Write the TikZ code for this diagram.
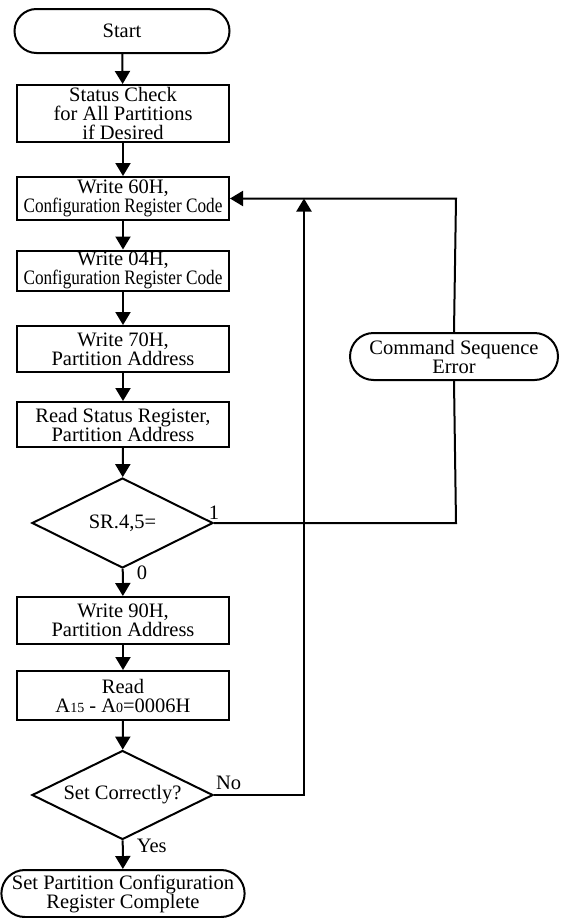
\documentclass[tikz,border=0pt]{standalone}
\usepackage{fontspec}
\setmainfont{Liberation Serif}
\newfontfamily\narrowserif[FakeStretch=0.84]{Liberation Serif}
\usetikzlibrary{shapes.geometric,shapes.misc,arrows.meta}

\begin{document}
\begin{tikzpicture}[x=1pt,y=-1pt,
    every node/.style={font=\fontsize{20.5}{19}\selectfont,align=center,inner sep=1pt},
    terminal/.style={draw,rounded rectangle,line width=2pt},
    stepbox/.style={draw,rectangle,line width=2pt,minimum width=212pt},
    decision/.style={draw,diamond,shape aspect=2,line width=2pt,inner sep=0pt},
    line/.style={line width=2pt},
    flow/.style={line width=2pt,-{Triangle[length=13pt,width=15pt]}}]

    \useasboundingbox (0,0) rectangle (560,918);

    \node [terminal,minimum width=217pt,minimum height=44pt] (start) at (122,31) {Start};
    \node [stepbox,minimum height=57pt] (check) at (123,113.5) {Status Check\\for All Partitions\\if Desired};
    \node [stepbox,minimum height=43pt] (w60) at (123,198.5) {Write 60H,\\{\narrowserif Configuration Register Code}};
    \node [stepbox,minimum height=40pt] (w04) at (123,270.5) {Write 04H,\\{\narrowserif Configuration Register Code}};
    \node [stepbox,minimum height=46pt] (w70) at (123,349) {Write 70H,\\Partition Address};
    \node [stepbox,minimum height=45pt] (rsr) at (123,424.5) {Read Status Register,\\Partition Address};
    \node [decision,minimum width=181pt,minimum height=90pt] (sr) at (122.5,523) {SR.4,5=};
    \node [stepbox,minimum height=47pt] (w90) at (123,620.5) {Write 90H,\\Partition Address};
    \node [stepbox,minimum height=49pt] (rd) at (123,695.5) {Read\\A{\fontsize{14}{14}\selectfont 15} - A{\fontsize{14}{14}\selectfont 0}=0006H};
    \node [decision,minimum width=181pt,minimum height=89pt] (sc) at (122.5,795) {Set Correctly?};
    \node [terminal,minimum width=240pt,minimum height=47pt] (done) at (123,893.5) {Set Partition Configuration\\Register Complete};
    \node [terminal,minimum width=210pt,minimum height=47pt] (cse) at (454,356.5) {Command Sequence\\Error};

    \coordinate (errbot) at (456,523);
    \coordinate (errtop) at (456,198.5);
    \coordinate (nocorner) at (304,795);
    \coordinate (loopin) at (304,198.5);

    \draw [flow] (start) -- (check);
    \draw [flow] (check) -- (w60);
    \draw [flow] (w60) -- (w04);
    \draw [flow] (w04) -- (w70);
    \draw [flow] (w70) -- (rsr);
    \draw [flow] (rsr) -- (sr);
    \draw [flow] (sr) -- (w90) node [pos=0.15,right,xshift=12pt] {0};
    \draw [flow] (w90) -- (rd);
    \draw [flow] (rd) -- (sc);
    \draw [flow] (sc) -- (done) node [pos=0.2,right,xshift=12pt] {Yes};

    \draw [line] (sr.east) node [above,yshift=2pt] {1} -- (errbot) -- (cse.south);
    \draw [flow] (cse.north) -- (errtop) -- (w60.east);
    \draw [flow] (sc.east) node [above right,yshift=3pt] {No} -- (nocorner) -- (loopin);

\end{tikzpicture}
\end{document}
